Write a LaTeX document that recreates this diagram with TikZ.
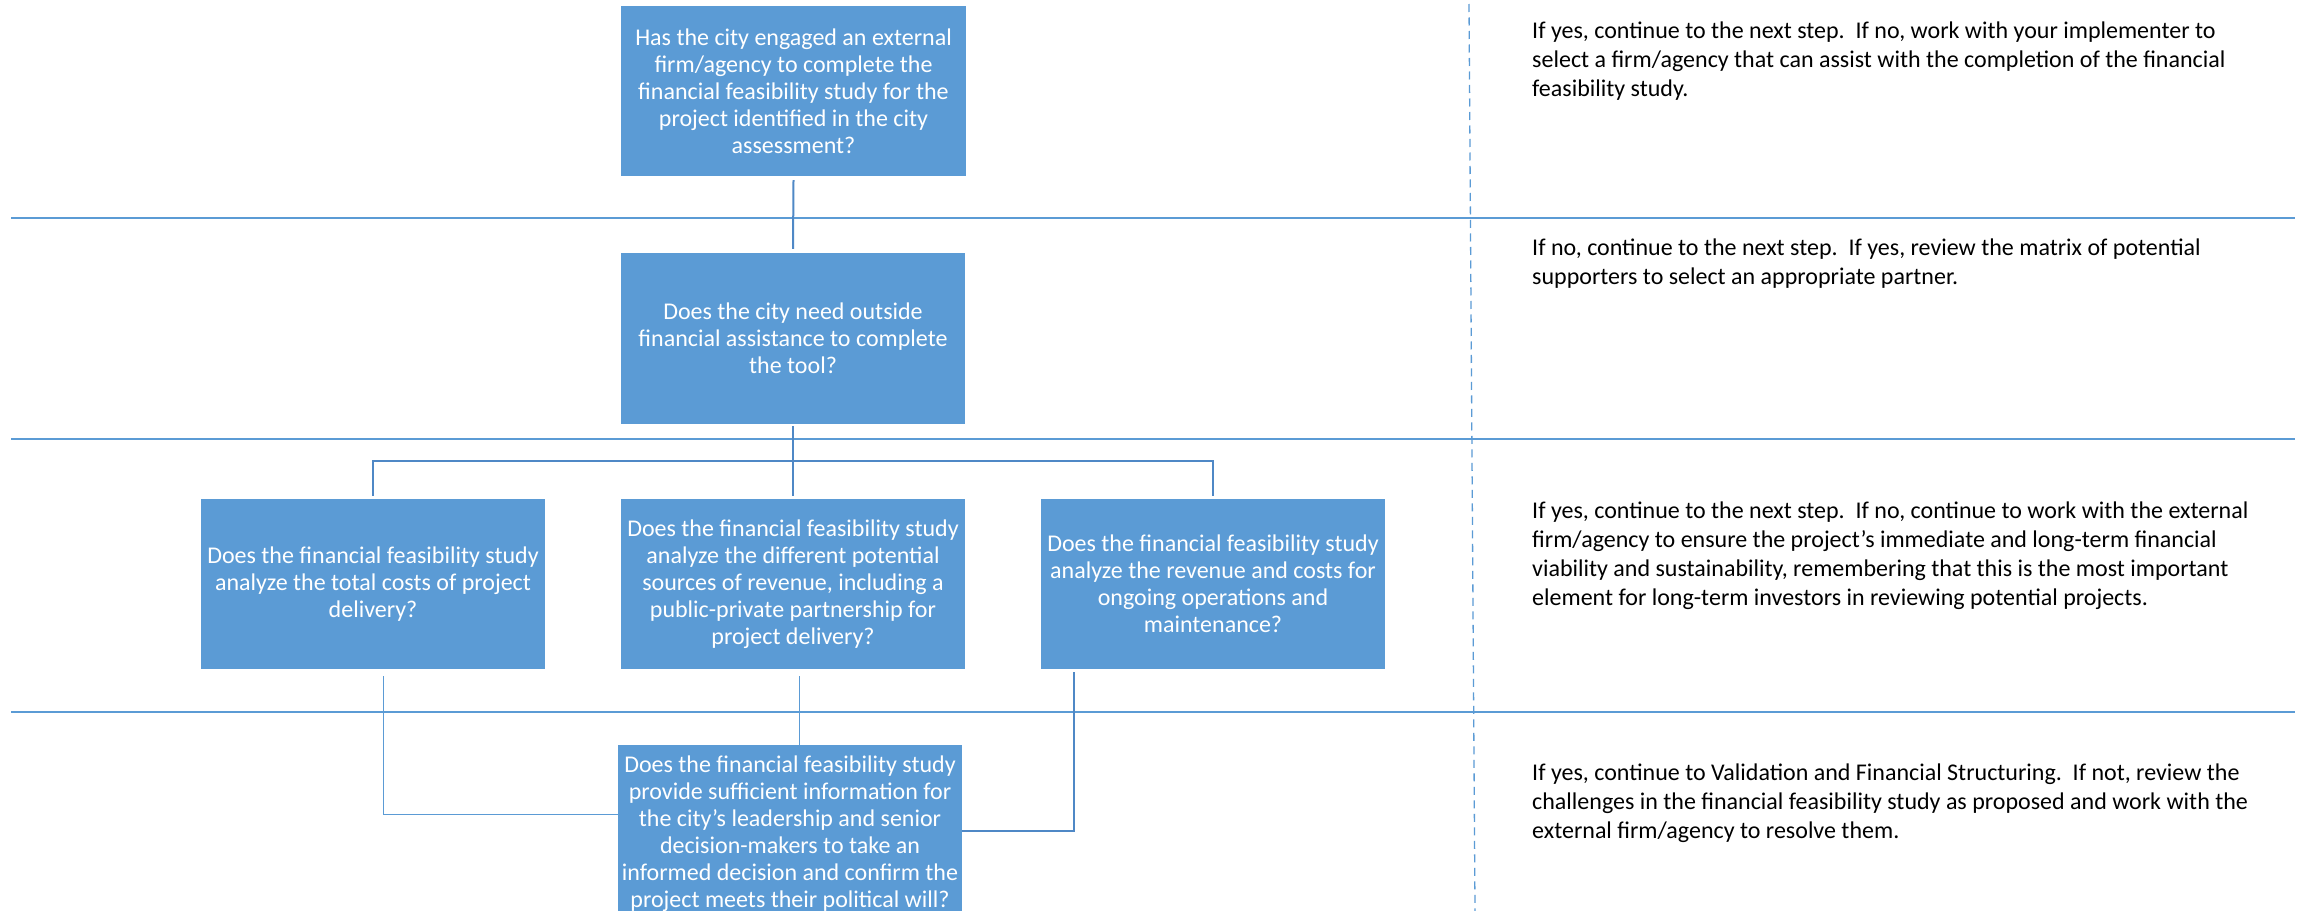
\documentclass[tikz,border=0pt]{standalone}
\usepackage{fontspec}
\setmainfont{Carlito}
\definecolor{boxblue}{HTML}{5B9BD5}
\definecolor{connblue}{HTML}{4F88C6}
\definecolor{rule}{HTML}{5B9BD5}
\tikzset{
  qbox/.style={fill=boxblue, text=white, inner sep=0pt, align=center,
    minimum width=344pt, minimum height=170pt,
    font=\fontsize{24}{27}\selectfont},
  note/.style={anchor=base west, inner sep=0pt, align=left, text=black,
    font=\fontsize{24}{28.8}\selectfont},
  conn/.style={draw=connblue, line width=2pt},
  thinconn/.style={draw=boxblue, line width=1pt},
  sep/.style={draw=rule, line width=1.5pt},
  divider/.style={draw=rule, line width=1.3pt, dash pattern=on 8pt off 5.5pt}
}
\begin{document}
\begin{tikzpicture}[x=1pt,y=-1pt]
\clip (0,0) rectangle (2307,910);
\fill[white] (0,0) rectangle (2307,910);

% separators
\coordinate (s1a) at (11,218); \coordinate (s1b) at (2295,218);
\coordinate (s2a) at (11,439); \coordinate (s2b) at (2295,439);
\coordinate (s3a) at (11,712); \coordinate (s3b) at (2295,712);
\draw[sep] (s1a) -- (s1b);
\draw[sep] (s2a) -- (s2b);
\draw[sep] (s3a) -- (s3b);
\coordinate (d1) at (1469,4); \coordinate (d2) at (1475,912);
\draw[divider] (d1) -- (d2);

% boxes
\node[qbox, minimum width=345pt] (b1) at (793.5,91) {Has the city engaged an external\\firm/agency to complete the\\financial feasibility study for the\\project identified in the city\\assessment?};
\node[qbox, minimum height=171pt] (b2) at (793,338.5) {Does the city need outside\\financial assistance to complete\\the tool?};
\node[qbox] (q1) at (373,584) {Does the financial feasibility study\\analyze the total costs of project\\delivery?};
\node[qbox] (q2) at (793,584) {Does the financial feasibility study\\analyze the different potential\\sources of revenue, including a\\public-private partnership for\\project delivery?};
\node[qbox] (q3) at (1213,584) {Does the financial feasibility study\\analyze the revenue and costs for\\ongoing operations and\\maintenance?};
\node[qbox, minimum height=178pt] (q4) at (790,834) {Does the financial feasibility study\\provide sufficient information for\\the city’s leadership and senior\\decision-makers to take an\\informed decision and confirm the\\project meets their political will?};

% connectors
\coordinate (bar) at (793,461);
\draw[conn] ([yshift=-4pt]b1.south) -- ([yshift=4pt]b2.north);
\draw[conn] ([yshift=-2pt]b2.south) -- ([yshift=3pt]q2.north);
\draw[conn] ([yshift=3pt]q1.north) -- (q1.north |- bar) -- (q3.north |- bar) -- ([yshift=3pt]q3.north);
\draw[thinconn] ([xshift=10pt,yshift=-7pt]q1.south) |- ([yshift=20pt]q4.west);
\draw[thinconn] ([xshift=6pt,yshift=-7pt]q2.south) -- ([xshift=6pt,yshift=-7pt]q2.south |- q4.north);
\draw[conn] ([xshift=33pt,yshift=-3pt]q3.south west) |- ([yshift=3pt]q4.east);

% notes (anchored at the baseline of their last line)
\node[note] (t1) at (1532,96) {If yes, continue to the next step.\ \ If no, work with your implementer to\\select a firm/agency that can assist with the completion of the financial\\feasibility study.};
\node[note] (t2) at (1532,284) {If no, continue to the next step.\ \ If yes, review the matrix of potential\\supporters to select an appropriate partner.};
\node[note] (t3) at (1532,605) {If yes, continue to the next step.\ \ If no, continue to work with the external\\firm/agency to ensure the project’s immediate and long-term financial\\viability and sustainability, remembering that this is the most important\\element for long-term investors in reviewing potential projects.};
\node[note] (t4) at (1532,838) {If yes, continue to Validation and Financial Structuring.\ \ If not, review the\\challenges in the financial feasibility study as proposed and work with the\\external firm/agency to resolve them.};
\end{tikzpicture}
\end{document}
